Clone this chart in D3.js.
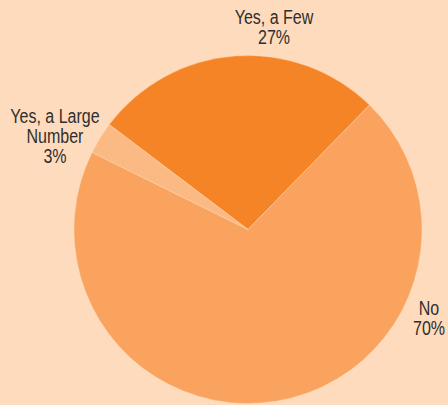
<!DOCTYPE html>
<html>
<head>
<meta charset="utf-8">
<script src="https://cdn.jsdelivr.net/npm/d3@7/dist/d3.min.js"></script>
<style>
  html, body { margin: 0; padding: 0; background: #FEDBBC; }
  svg { display: block; }
  text { font-family: "Liberation Sans", Arial, sans-serif; fill: #2f2f2f; }
</style>
</head>
<body>
<script>
// Survey answers and their shares (percent)
const categories = ["Yes, a Few", "No", "Yes, a Large Number"];
const values = [27, 70, 3];
const valueLabels = ["27%", "70%", "3%"];

const W = 448, H = 405;
const cx = 248, cy = 229.5, R = 174;

const colors = d3.scaleOrdinal()
  .domain(categories)
  .range(["#F58426", "#F9A35F", "#FBBA83"]);

// Label lines and anchor points for each slice
const labelLayout = {
  "Yes, a Few": { x: 274, y: 24, lines: ["Yes, a Few"] },
  "No": { x: 429, y: 315, lines: ["No"] },
  "Yes, a Large Number": { x: 55, y: 123, lines: ["Yes, a Large", "Number"] }
};

const svg = d3.select("body").append("svg")
  .attr("width", W).attr("height", H);

svg.append("rect").attr("width", W).attr("height", H).attr("fill", "#FEDBBC");

const start = -52.9 * Math.PI / 180;
const pie = d3.pie().sort(null).value(d => d.value)
  .startAngle(start).endAngle(start + 2 * Math.PI);

const data = categories.map((c, i) => ({ cat: c, value: values[i], label: valueLabels[i] }));
const arcs = pie(data);

const arc = d3.arc().innerRadius(0).outerRadius(R);

const g = svg.append("g").attr("transform", `translate(${cx},${cy})`);
g.selectAll("path").data(arcs).join("path")
  .attr("d", arc)
  .attr("fill", d => colors(d.data.cat))
  .attr("stroke", "#FEDBBC")
  .attr("stroke-width", 0.4);

// Condensed labels: a regular sans squeezed horizontally
const lineH = 20;
const lbl = svg.append("g");
data.forEach(d => {
  const L = labelLayout[d.cat];
  const t = lbl.append("text")
    .attr("transform", `translate(${L.x},${L.y}) scale(0.8,1)`)
    .attr("text-anchor", "middle")
    .attr("font-size", 20);
  const lines = L.lines.concat([d.label]);
  lines.forEach((s, i) => {
    t.append("tspan").attr("x", 0).attr("y", i * lineH).text(s);
  });
});
</script>
</body>
</html>
